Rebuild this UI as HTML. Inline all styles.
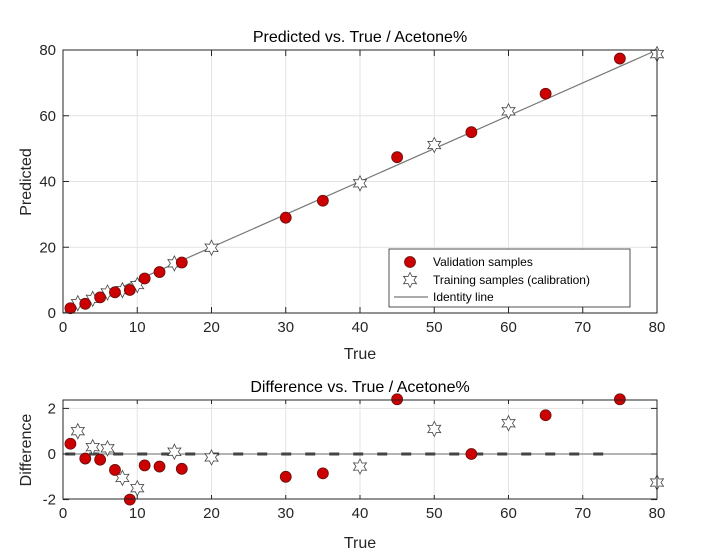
<!DOCTYPE html>
<html><head><meta charset="utf-8"><style>
body{margin:0;background:#fff;}
svg{display:block;font-family:"Liberation Sans",sans-serif;}
</style></head><body>
<svg id="s" width="706" height="554" viewBox="0 0 706 554" xmlns="http://www.w3.org/2000/svg">
<rect width="706" height="554" fill="#fff"/>
<g id="g"></g>
<text x="360" y="42" font-size="16" text-anchor="middle" fill="#000">Predicted vs. True / Acetone%</text>
<text x="360" y="359" font-size="16" text-anchor="middle" fill="#262626">True</text>
<text transform="translate(31,182) rotate(-90)" font-size="16" text-anchor="middle" fill="#262626">Predicted</text>
<text x="360" y="392" font-size="16" text-anchor="middle" fill="#000">Difference vs. True / Acetone%</text>
<text x="360" y="548" font-size="16" text-anchor="middle" fill="#262626">True</text>
<text transform="translate(31,450) rotate(-90)" font-size="16" text-anchor="middle" fill="#262626">Difference</text>
</svg>
<script>
var g=document.getElementById('g'),h='';
function X(x){return 63+7.425*x;}
function Y(y){return 313-3.2875*y;}
function Yb(d){return 454-22.8*d;}
function star(cx,cy){var p=[];for(var k=0;k<12;k++){var a=(-90+30*k)*Math.PI/180,r=k%2?4:7.5;p.push((cx+r*Math.cos(a)).toFixed(1)+','+(cy+r*Math.sin(a)).toFixed(1));}
return '<polygon points="'+p.join(' ')+'" fill="#fff" stroke="#444" stroke-width="0.8"/>';}
function dot(cx,cy){return '<circle cx="'+cx+'" cy="'+cy+'" r="5.5" fill="#cc0000" stroke="#661111" stroke-width="0.8"/>';}
for(var i=10;i<80;i+=10)h+='<line x1="'+X(i)+'" y1="50" x2="'+X(i)+'" y2="313" stroke="#e3e3e3"/>';
for(var j=20;j<80;j+=20)h+='<line x1="63" y1="'+Y(j)+'" x2="657" y2="'+Y(j)+'" stroke="#e3e3e3"/>';
for(var i=10;i<80;i+=10)h+='<line x1="'+X(i)+'" y1="400" x2="'+X(i)+'" y2="499" stroke="#e3e3e3"/>';
[2,0].forEach(function(d){h+='<line x1="63" y1="'+Yb(d)+'" x2="657" y2="'+Yb(d)+'" stroke="#e3e3e3"/>';});
h+='<line x1="'+X(0)+'" y1="'+Y(0)+'" x2="'+X(80)+'" y2="'+Y(80)+'" stroke="#777" stroke-width="1.2"/>';
var V=[[1,.45],[3,-.2],[5,-.25],[7,-.7],[9,-2],[11,-.5],[13,-.55],[16,-.65],[30,-1],[35,-.85],[45,2.4],[55,0],[65,1.7],[75,2.4]];
var T=[[2,1],[4,.3],[6,.25],[8,-1.05],[10,-1.5],[15,.1],[20,-.15],[40,-.55],[50,1.1],[60,1.35],[80,-1.25]];
T.forEach(function(t){h+=star(X(t[0]),Y(t[0]+t[1]));});
V.forEach(function(v){h+=dot(X(v[0]),Y(v[0]+v[1]));});
h+='<line x1="63" y1="454" x2="657" y2="454" stroke="#888" stroke-width="1.2"/>';
h+='<line x1="'+X(0.3)+'" y1="454" x2="'+X(74)+'" y2="454" stroke="#444" stroke-width="3" stroke-dasharray="10,14"/>';
T.forEach(function(t){h+=star(X(t[0]),Yb(t[1]));});
V.forEach(function(v){h+=dot(X(v[0]),Yb(v[1]));});
h+='<rect x="63" y="50" width="594" height="263" fill="none" stroke="#262626"/>';
h+='<rect x="63" y="400" width="594" height="99" fill="none" stroke="#262626"/>';
for(var i=0;i<=80;i+=10){h+='<line x1="'+X(i)+'" y1="313" x2="'+X(i)+'" y2="307" stroke="#262626"/><line x1="'+X(i)+'" y1="50" x2="'+X(i)+'" y2="56" stroke="#262626"/>';
h+='<text x="'+X(i)+'" y="332" font-size="15" text-anchor="middle" fill="#262626">'+i+'</text>';
h+='<line x1="'+X(i)+'" y1="499" x2="'+X(i)+'" y2="495" stroke="#262626"/><line x1="'+X(i)+'" y1="400" x2="'+X(i)+'" y2="404" stroke="#262626"/>';
h+='<text x="'+X(i)+'" y="518" font-size="15" text-anchor="middle" fill="#262626">'+i+'</text>';}
for(var j=0;j<=80;j+=20){h+='<line x1="63" y1="'+Y(j)+'" x2="69" y2="'+Y(j)+'" stroke="#262626"/><line x1="657" y1="'+Y(j)+'" x2="651" y2="'+Y(j)+'" stroke="#262626"/>';
h+='<text x="56" y="'+(Y(j)+5)+'" font-size="15" text-anchor="end" fill="#262626">'+j+'</text>';}
[2,0,-2].forEach(function(d){h+='<line x1="63" y1="'+Yb(d)+'" x2="69" y2="'+Yb(d)+'" stroke="#262626"/><line x1="657" y1="'+Yb(d)+'" x2="651" y2="'+Yb(d)+'" stroke="#262626"/>';
h+='<text x="56" y="'+(Yb(d)+5)+'" font-size="15" text-anchor="end" fill="#262626">'+d+'</text>';});
h+='<rect x="389" y="249" width="241" height="58" fill="#fff" stroke="#262626" stroke-width="0.8"/>';
h+=dot(410,262)+star(410,280)+'<line x1="394" y1="297" x2="428" y2="297" stroke="#777" stroke-width="1.2"/>';
h+='<text x="433" y="266" font-size="12" fill="#000">Validation samples</text>';
h+='<text x="433" y="284" font-size="12" fill="#000">Training samples (calibration)</text>';
h+='<text x="433" y="301" font-size="12" fill="#000">Identity line</text>';
g.innerHTML=h;
</script>
</body></html>
